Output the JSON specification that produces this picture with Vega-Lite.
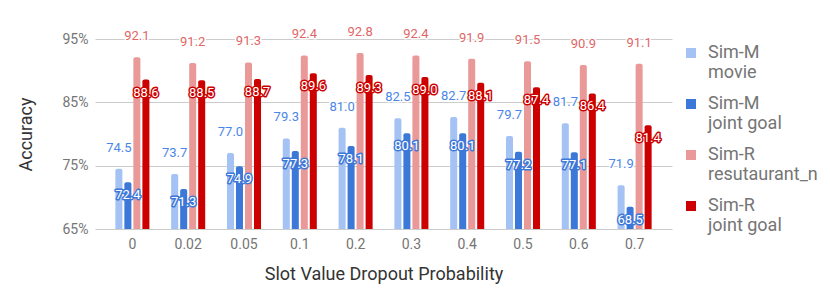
{
  "$schema": "https://vega.github.io/schema/vega-lite/v6.json",
  "width": 577,
  "height": 190,
  "autosize": {"type": "none"},
  "padding": {"left": 95, "top": 39, "right": 158, "bottom": 60},
  "background": "white",
  "config": {
    "view": {"stroke": null},
    "font": "Roboto",
    "axis": {"labelFont": "Roboto", "titleFont": "Roboto"},
    "legend": {"labelFont": "Roboto"}
  },
  "data": {"values": [
    {"p": "0", "series": "Sim-M movie", "v": 74.5},
    {"p": "0.02", "series": "Sim-M movie", "v": 73.7},
    {"p": "0.05", "series": "Sim-M movie", "v": 77.0},
    {"p": "0.1", "series": "Sim-M movie", "v": 79.3},
    {"p": "0.2", "series": "Sim-M movie", "v": 81.0},
    {"p": "0.3", "series": "Sim-M movie", "v": 82.5},
    {"p": "0.4", "series": "Sim-M movie", "v": 82.7},
    {"p": "0.5", "series": "Sim-M movie", "v": 79.7},
    {"p": "0.6", "series": "Sim-M movie", "v": 81.7},
    {"p": "0.7", "series": "Sim-M movie", "v": 71.9},
    {"p": "0", "series": "Sim-M joint goal", "v": 72.4},
    {"p": "0.02", "series": "Sim-M joint goal", "v": 71.3},
    {"p": "0.05", "series": "Sim-M joint goal", "v": 74.9},
    {"p": "0.1", "series": "Sim-M joint goal", "v": 77.3},
    {"p": "0.2", "series": "Sim-M joint goal", "v": 78.1},
    {"p": "0.3", "series": "Sim-M joint goal", "v": 80.1},
    {"p": "0.4", "series": "Sim-M joint goal", "v": 80.1},
    {"p": "0.5", "series": "Sim-M joint goal", "v": 77.2},
    {"p": "0.6", "series": "Sim-M joint goal", "v": 77.1},
    {"p": "0.7", "series": "Sim-M joint goal", "v": 68.5},
    {"p": "0", "series": "Sim-R resutaurant_n", "v": 92.1},
    {"p": "0.02", "series": "Sim-R resutaurant_n", "v": 91.2},
    {"p": "0.05", "series": "Sim-R resutaurant_n", "v": 91.3},
    {"p": "0.1", "series": "Sim-R resutaurant_n", "v": 92.4},
    {"p": "0.2", "series": "Sim-R resutaurant_n", "v": 92.8},
    {"p": "0.3", "series": "Sim-R resutaurant_n", "v": 92.4},
    {"p": "0.4", "series": "Sim-R resutaurant_n", "v": 91.9},
    {"p": "0.5", "series": "Sim-R resutaurant_n", "v": 91.5},
    {"p": "0.6", "series": "Sim-R resutaurant_n", "v": 90.9},
    {"p": "0.7", "series": "Sim-R resutaurant_n", "v": 91.1},
    {"p": "0", "series": "Sim-R joint goal", "v": 88.6},
    {"p": "0.02", "series": "Sim-R joint goal", "v": 88.5},
    {"p": "0.05", "series": "Sim-R joint goal", "v": 88.7},
    {"p": "0.1", "series": "Sim-R joint goal", "v": 89.6},
    {"p": "0.2", "series": "Sim-R joint goal", "v": 89.3},
    {"p": "0.3", "series": "Sim-R joint goal", "v": 89.0},
    {"p": "0.4", "series": "Sim-R joint goal", "v": 88.1},
    {"p": "0.5", "series": "Sim-R joint goal", "v": 87.4},
    {"p": "0.6", "series": "Sim-R joint goal", "v": 86.4},
    {"p": "0.7", "series": "Sim-R joint goal", "v": 81.4}
  ]},
  "encoding": {
    "x": {
      "field": "p", "type": "nominal", "sort": null,
      "scale": {"paddingInner": 0.39, "paddingOuter": 0.365},
      "axis": {
        "title": "Slot Value Dropout Probability",
        "titleFontSize": 18, "titleFontWeight": "normal", "titleColor": "#333333", "titlePadding": 14,
        "labelFontSize": 14, "labelColor": "#757575", "labelAngle": 0, "labelPadding": 8,
        "domain": false, "ticks": false, "grid": false
      }
    },
    "xOffset": {
      "field": "series", "type": "nominal",
      "scale": {"domain": ["Sim-M movie", "Sim-M joint goal", "Sim-R resutaurant_n", "Sim-R joint goal"], "paddingInner": 0.22, "paddingOuter": 0}
    },
    "y": {
      "field": "v", "type": "quantitative", "stack": null,
      "scale": {"domain": [65, 95], "zero": false, "nice": false},
      "axis": {
        "title": "Accuracy",
        "titleFontSize": 18, "titleFontWeight": "normal", "titleColor": "#333333",
        "titleX": -69, "titleY": 95, "titleBaseline": "middle", "titleAlign": "center", "titleAngle": -90,
        "values": [65, 75, 85, 95], "labelExpr": "datum.value + '%'",
        "labelFontSize": 14, "labelColor": "#757575", "labelPadding": 7,
        "domain": false, "ticks": false, "gridColor": "#cccccc", "gridWidth": 1
      }
    }
  },
  "layer": [
    {
      "mark": {"type": "bar", "clip": true, "cornerRadiusTopLeft": 2, "cornerRadiusTopRight": 2},
      "encoding": {
        "color": {
          "field": "series", "type": "nominal",
          "scale": {"domain": ["Sim-M movie", "Sim-M joint goal", "Sim-R resutaurant_n", "Sim-R joint goal"], "range": ["#a4c2f4", "#3c78d8", "#ea9999", "#cc0000"]},
          "legend": {
            "title": null, "orient": "none", "legendX": 587, "legendY": 5,
            "symbolType": "square", "symbolSize": 100, "symbolStrokeWidth": 0,
            "labelFontSize": 18, "labelColor": "#757575", "labelLimit": 200,
            "labelExpr": "[slice(datum.label, 0, 5), slice(datum.label, 6)]",
            "labelOffset": 8, "rowPadding": 13, "padding": 0
          }
        }
      }
    },
    {
      "transform": [{"filter": "datum.series == 'Sim-M movie' || datum.series == 'Sim-R resutaurant_n'"}],
      "mark": {"type": "text", "fontSize": 13, "dy": -21, "stroke": "white", "strokeWidth": 3, "strokeJoin": "round", "fill": "white"},
      "encoding": {"text": {"field": "v", "type": "quantitative", "format": ".1f"}}
    },
    {
      "transform": [{"filter": "datum.series == 'Sim-M movie' || datum.series == 'Sim-R resutaurant_n'"}],
      "mark": {"type": "text", "fontSize": 13, "dy": -21},
      "encoding": {
        "text": {"field": "v", "type": "quantitative", "format": ".1f"},
        "fill": {"condition": {"test": "datum.series == 'Sim-M movie'", "value": "#4a86e8"}, "value": "#e06666"}
      }
    },
    {
      "transform": [{"filter": "datum.series == 'Sim-M joint goal' || datum.series == 'Sim-R joint goal'"}],
      "mark": {"type": "text", "fontSize": 13, "dy": 13, "strokeWidth": 3, "strokeJoin": "round"},
      "encoding": {
        "text": {"field": "v", "type": "quantitative", "format": ".1f"},
        "stroke": {"condition": {"test": "datum.series == 'Sim-M joint goal'", "value": "#3c78d8"}, "value": "#cc0000"},
        "fill": {"condition": {"test": "datum.series == 'Sim-M joint goal'", "value": "#3c78d8"}, "value": "#cc0000"}
      }
    },
    {
      "transform": [{"filter": "datum.series == 'Sim-M joint goal' || datum.series == 'Sim-R joint goal'"}],
      "mark": {"type": "text", "fontSize": 13, "dy": 13, "fill": "white"},
      "encoding": {"text": {"field": "v", "type": "quantitative", "format": ".1f"}}
    }
  ]
}
